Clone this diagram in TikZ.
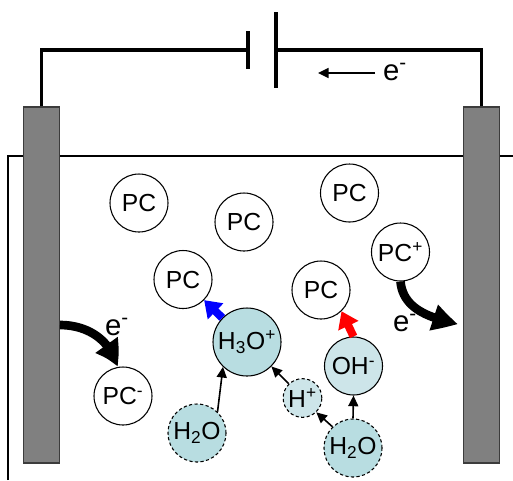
\documentclass[tikz,border=0pt]{standalone}
\usepackage{fontspec}
\setmainfont{Liberation Sans}
\usepackage{tikz}
\usetikzlibrary{
  arrows.meta,
  bending
}
\definecolor{cellteal}{RGB}{184,221,225}
\definecolor{celllight}{RGB}{205,229,233}
\definecolor{cellgray}{RGB}{128,128,128}
\definecolor{celledge}{RGB}{60,60,60}
\tikzset{
  electrode/.style={
    rectangle,
    draw=celledge,
    fill=cellgray,
    line width=0.8pt,
    minimum width=26.5pt,
    minimum height=267pt,
    inner sep=0pt
  },
  plate/.style={
    rectangle,
    fill=black,
    minimum width=2.4pt,
    inner sep=0pt
  },
  solvent/.style={
    circle,
    draw=black,
    fill=white,
    line width=0.8pt,
    minimum size=43.5pt,
    inner sep=0pt,
    font=\fontsize{18.5}{20}\selectfont
  },
  ion/.style={
    solvent,
    fill=celllight
  },
  water/.style={
    solvent,
    fill=cellteal,
    dash pattern=on 2.4pt off 1.8pt
  },
  wire/.style={
    line width=2.3pt,
    draw=black
  },
  thinArrow/.style={
    -{Triangle[length=8pt,width=7.5pt]},
    line width=1.2pt
  },
  flowArrow/.style={
    -{Triangle[length=12pt,width=16pt]},
    line width=6pt
  },
  curveArrow/.style={
    -{Triangle[length=19pt,width=19pt,bend]},
    line width=6.5pt
  },
  electronLabel/.style={
    inner sep=0pt,
    font=\fontsize{22}{24}\selectfont
  }
}

\begin{document}
\begin{tikzpicture}[x=0.75pt,y=-0.75pt]
  \useasboundingbox (0,0) rectangle (513,480);

  % tank
  \coordinate (tankBottom) at (8,480);
  \coordinate (tankCorner) at (8,156);
  \coordinate (tankEnd) at (513,156);
  \draw[line width=0.8pt] (tankBottom) -- (tankCorner) -- (tankEnd);

  \node[electrode] (anode) at (41.5,285) {};
  \node[electrode] (cathode) at (481.5,285) {};

  % battery
  \node[plate, minimum height=28.5pt] (plateShort) at (248,50) {};
  \node[plate, minimum height=57pt] (plateLong) at (276,50) {};
  \draw[wire] (anode.north) |- (plateShort.west);
  \draw[wire] (cathode.north) |- (plateLong.east);

  \coordinate (flowStart) at (375,73);
  \coordinate (flowEnd) at (318,73);
  \draw[thinArrow] (flowStart) -- (flowEnd);
  \node[electronLabel] (eTop) at (395,72) {e\textsuperscript{-}};

  % solvent
  \node[solvent] (pcA) at (139,203) {PC};
  \node[solvent] (pcB) at (244,222) {PC};
  \node[solvent] (pcC) at (349.5,193) {PC};
  \node[solvent] (pcD) at (183,279.5) {PC};
  \node[solvent] (pcE) at (321,290) {PC};
  \node[solvent] (pcPlus) at (400.5,252) {PC\textsuperscript{+}};
  \node[solvent] (pcMinus) at (123,396) {PC\textsuperscript{-}};

  % ions
  \node[ion, fill=cellteal, minimum size=51pt] (hydronium) at (247,342) {H\textsubscript{3}O\textsuperscript{+}};
  \node[ion] (hydroxide) at (353.5,366) {OH\textsuperscript{-}};
  \node[ion, water, fill=celllight, minimum size=29pt] (proton) at (302.5,398) {H\textsuperscript{+}};
  \node[water] (waterA) at (197,433) {H\textsubscript{2}O};
  \node[water] (waterB) at (353,448) {H\textsubscript{2}O};

  \draw[thinArrow] (waterA.46) -- (hydronium.226);
  \draw[thinArrow] (proton.134) -- (hydronium.-45);
  \draw[thinArrow] (waterB.134) -- (proton.-46);
  \draw[thinArrow] (waterB.north) -- (hydroxide.south);

  \draw[flowArrow, blue] (hydronium) -- (pcD);
  \draw[flowArrow, red] (hydroxide.north) -- (pcE.-46);

  % electron transfer
  \coordinate (anodeOut) at (60,325);
  \coordinate (cathodeIn) at (458,324);
  \draw[curveArrow] (anodeOut) to[out=0,in=102] (pcMinus.102);
  \draw[curveArrow] (pcPlus.-90) to[out=-85,in=168] (cathodeIn);
  \node[electronLabel] (eLeft) at (117,327) {e\textsuperscript{-}};
  \node[electronLabel] (eRight) at (405,323) {e\textsuperscript{-}};
\end{tikzpicture}
\end{document}
